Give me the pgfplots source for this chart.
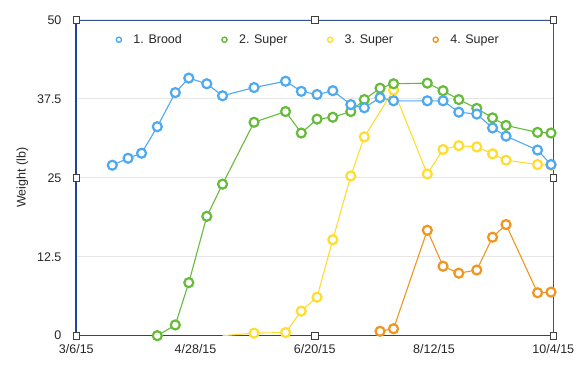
\documentclass[border=0pt]{standalone}
\usepackage{fontspec}
\setmainfont{Liberation Sans}
\usepackage{pgfplots}
\pgfplotsset{compat=1.18}
\definecolor{cblue}{HTML}{4DA9F2}
\definecolor{cgreen}{HTML}{66BB3A}
\definecolor{cyellow}{HTML}{FFDD2E}
\definecolor{corange}{HTML}{F0951F}
\definecolor{axblue}{HTML}{23439A}
\definecolor{gridgray}{HTML}{E6E6E6}
\begin{document}
\fontsize{12.5}{15}\selectfont
\begin{tikzpicture}
\begin{axis}[
 scale only axis, width=477pt, height=315.7pt,
 xmin=0, xmax=212, ymin=0, ymax=50,
 axis line style={draw=axblue!75!gray, line width=0.8pt},
 xtick={0,53,106,159,212},
 xticklabels={3/6/15,4/28/15,6/20/15,8/12/15,10/4/15},
 ytick={0,12.5,25,37.5,50},
 yticklabels={0,12.5,25,37.5,50},
 major tick length=0pt,
 ymajorgrids, grid style={gridgray, line width=1pt},
 tick label style={font=\fontsize{12.5}{15}\selectfont, text=black!85},
 xticklabel style={yshift=-4pt},
 yticklabel style={xshift=-10.5pt},
 /pgf/number format/assume math mode=true,
 ylabel={Weight (lb)},
 every axis y label/.style={at={(axis description cs:-0.1132,0.5)}, rotate=90, anchor=center, font=\fontsize{12.5}{15}\selectfont, text=black!85},
 clip=false,
 legend columns=4, reverse legend,
 legend style={at={(axis description cs:0.4868,0.9375)}, anchor=center, draw=none, fill=none, font=\fontsize{12.5}{15}\selectfont, text=black!85,
   /tikz/every odd column/.style={column sep=10pt}, /tikz/every even column/.style={column sep=38pt}},
 legend image code/.code={\draw[#1, mark size=2.6pt, every mark/.append style={line width=1.4pt}] plot coordinates {(0pt,0pt)};},
 every axis plot/.append style={line width=1.1pt, mark=*, mark size=4.5pt},
]
\coordinate (ll) at (rel axis cs:0,0);
\coordinate (ur) at (rel axis cs:1,1);
\draw[axblue, line width=1.6pt] (rel axis cs:0,1) -- (rel axis cs:0,0) -- (rel axis cs:1,0);

% 4. Super
\addplot[corange, mark options={fill=white, draw=corange, line width=2.2pt}] coordinates {
(135,0.7)(141,1.1)(156,16.7)(163,11.0)(170,9.9)(178,10.4)(185,15.6)(191,17.6)(205,6.8)(211,6.9)};
\addlegendentry{4. Super}

% 3. Super
\addplot[forget plot, cyellow, no marks] coordinates {(65,0)(79,0.4)};
\addplot[cyellow, mark options={fill=white, draw=cyellow, line width=2.2pt}] coordinates {
(79,0.4)(93,0.5)(100,3.9)(107,6.1)(114,15.2)(122,25.3)(128,31.5)(141,38.9)(156,25.6)(163,29.5)(170,30.1)(178,29.9)(185,28.8)(191,27.8)(205,27.1)(211,27.0)};
\addlegendentry{3. Super}

% 2. Super
\addplot[cgreen, mark options={fill=white, draw=cgreen, line width=2.2pt}] coordinates {
(36,0)(44,1.7)(50,8.4)(58,18.9)(65,24.0)(79,33.8)(93,35.5)(100,32.1)(107,34.3)(114,34.6)(122,35.5)(128,37.4)(135,39.2)(141,39.9)(156,40.0)(163,38.8)(170,37.4)(178,36.0)(185,34.5)(191,33.3)(205,32.2)(211,32.1)};
\addlegendentry{2. Super}

% 1. Brood
\addplot[cblue, mark options={fill=white, draw=cblue, line width=2.2pt}] coordinates {
(16,27.0)(23,28.1)(29,28.9)(36,33.1)(44,38.5)(50,40.8)(58,39.9)(65,38.0)(79,39.3)(93,40.3)(100,38.7)(107,38.2)(114,38.8)(122,36.6)(128,36.1)(135,37.7)(141,37.2)(156,37.2)(163,37.2)(170,35.4)(178,35.1)(185,32.9)(191,31.6)(205,29.4)(211,27.1)};
\addlegendentry{1. Brood}

% selection handles
\addplot[forget plot, only marks, mark=square*, mark size=3.3pt, mark options={fill=white, draw=black!75, line width=0.6pt}] coordinates {
(0,0)(106,0)(212,0)(0,25)(212,25)(0,50)(106,50)(212,50)};
\end{axis}
\pgfresetboundingbox
\path ([shift={(-76.3pt,-37.3pt)}]ll) rectangle ([shift={(30.7pt,20pt)}]ur);
\end{tikzpicture}
\end{document}
